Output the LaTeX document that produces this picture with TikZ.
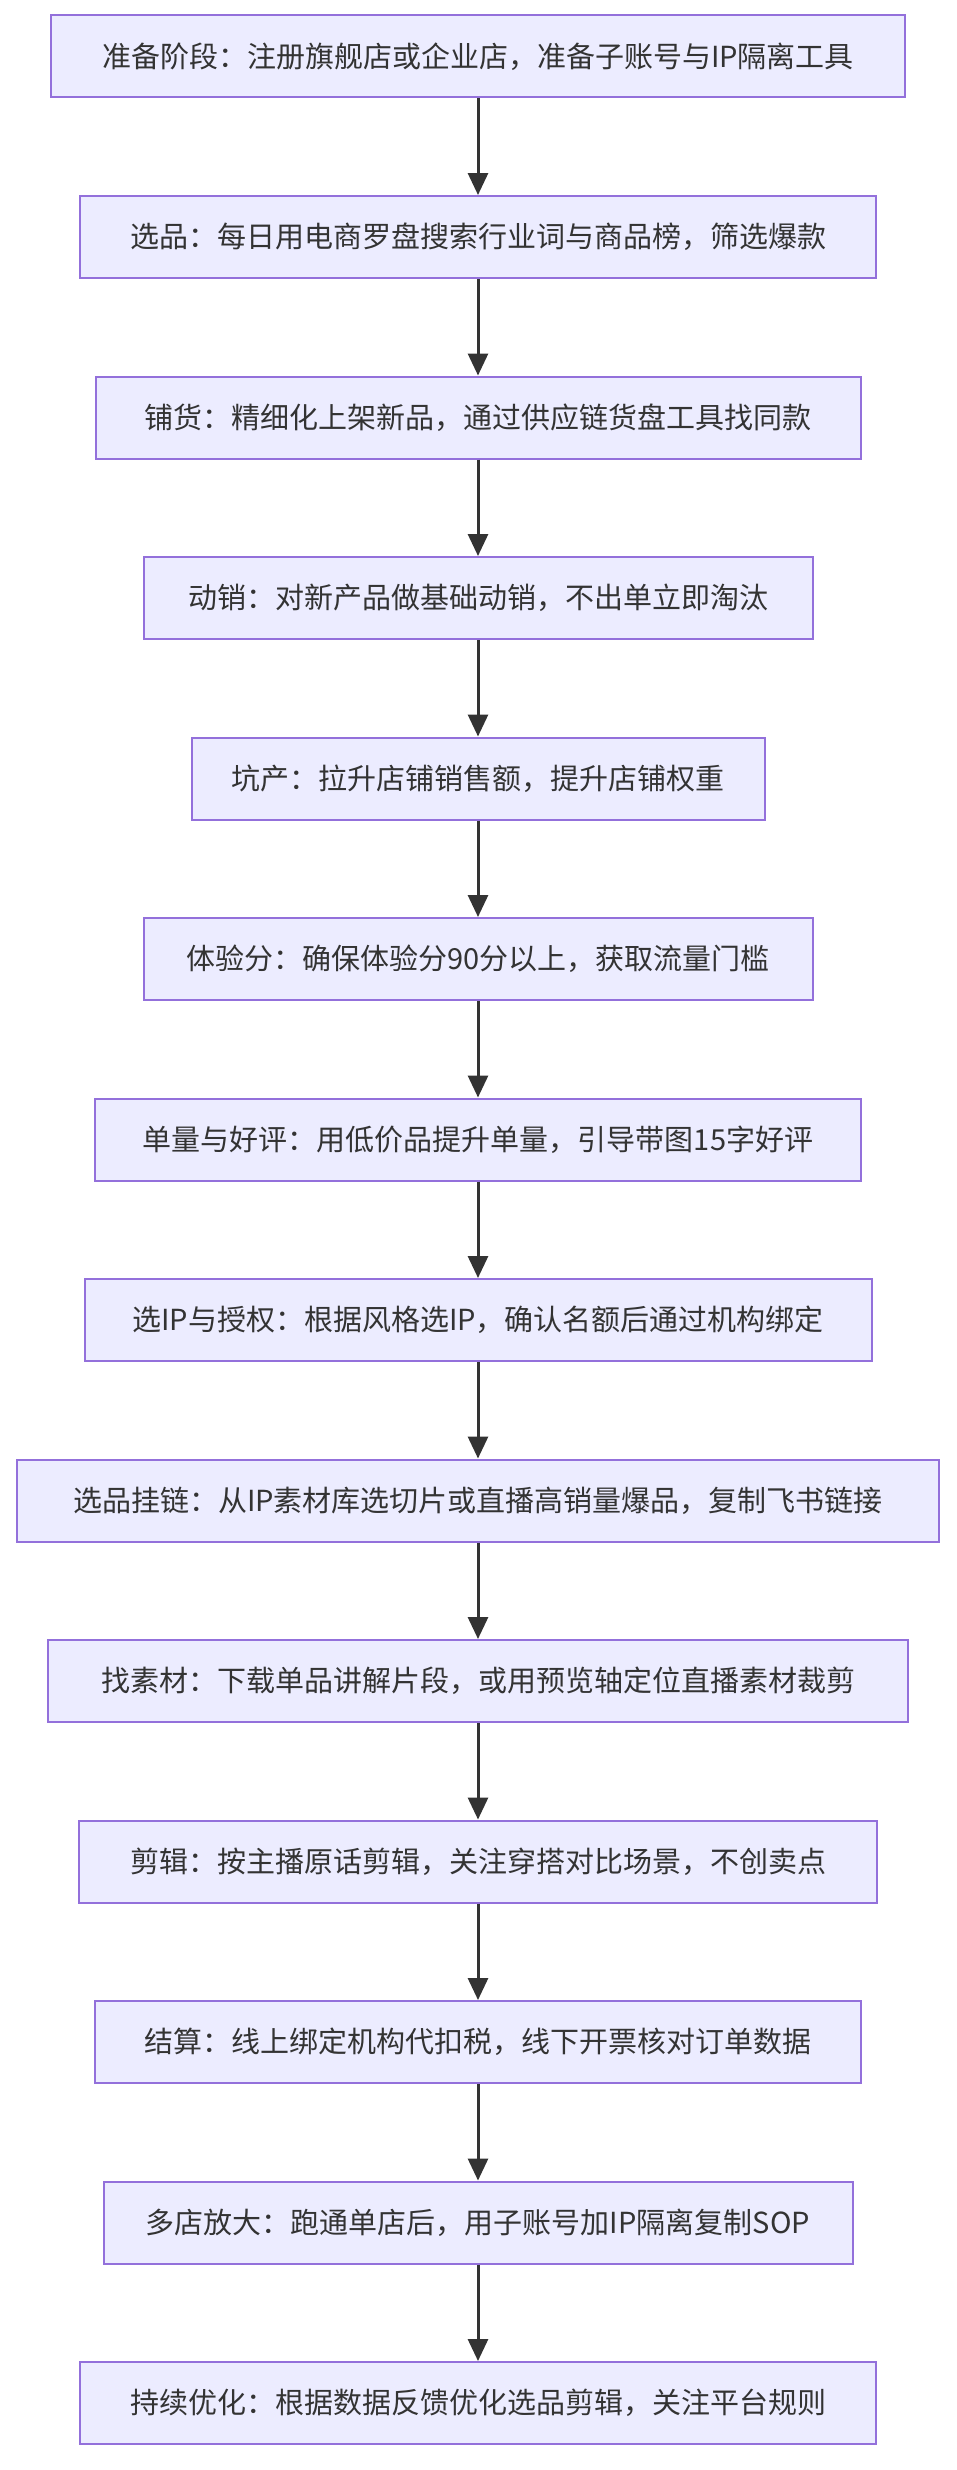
\documentclass[tikz,border=0pt]{standalone}
\usepackage{fontspec}
\newfontfamily\cjk{Noto Sans CJK SC}
\usetikzlibrary{arrows.meta}
\definecolor{nfill}{HTML}{ECECFF}
\definecolor{nborder}{HTML}{9370DB}
\definecolor{arr}{HTML}{333333}
\begin{document}
\begin{tikzpicture}[x=1pt,y=-1pt,
  box/.style={draw=nborder,fill=nfill,line width=2pt,minimum height=82pt,inner sep=0pt,font=\cjk\fontsize{29}{34}\selectfont,text=arr},
  conn/.style={draw=arr,line width=3pt,-{Triangle[length=22pt,width=20pt]}}]
\useasboundingbox (0,0) rectangle (956,2470);
\foreach \i/\w/\t in {
1/854/准备阶段：注册旗舰店或企业店，准备子账号与IP隔离工具,
2/796/选品：每日用电商罗盘搜索行业词与商品榜，筛选爆款,
3/765/铺货：精细化上架新品，通过供应链货盘工具找同款,
4/669/动销：对新产品做基础动销，不出单立即淘汰,
5/573/坑产：拉升店铺销售额，提升店铺权重,
6/669/体验分：确保体验分90分以上，获取流量门槛,
7/766/单量与好评：用低价品提升单量，引导带图15字好评,
8/787/选IP与授权：根据风格选IP，确认名额后通过机构绑定,
9/922/选品挂链：从IP素材库选切片或直播高销量爆品，复制飞书链接,
10/860/找素材：下载单品讲解片段，或用预览轴定位直播素材裁剪,
11/798/剪辑：按主播原话剪辑，关注穿搭对比场景，不创卖点,
12/766/结算：线上绑定机构代扣税，线下开票核对订单数据,
13/749/多店放大：跑通单店后，用子账号加IP隔离复制SOP,
14/796/持续优化：根据数据反馈优化选品剪辑，关注平台规则}
{\node[box,minimum width=\w pt] (n\i) at (478,{56.5+180.5*(\i-1)}) {\t};}
\foreach \i [evaluate=\i as \j using int(\i+1)] in {1,...,13}
  \draw[conn] (n\i.south) -- (n\j.north);
\end{tikzpicture}
\end{document}
